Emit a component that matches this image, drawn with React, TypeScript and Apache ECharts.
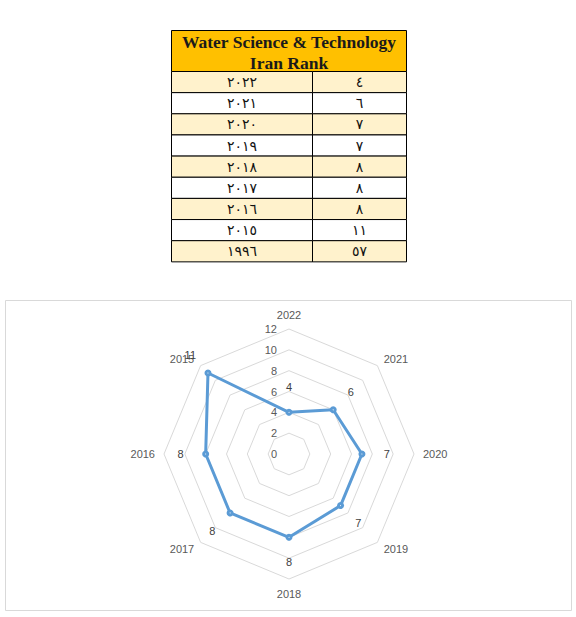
import React, { useEffect, useRef } from "react";
import * as echarts from "echarts";

// ---- data ----
const years = ["2022", "2021", "2020", "2019", "2018", "2017", "2016", "2015"];
const ranks = [4, 6, 7, 7, 8, 8, 8, 11];
const radarMin = 0;
const radarMax = 12;
const radarInterval = 2;

const tableTitle = ["Water Science & Technology", "Iran Rank"];
const tableYears = [2022, 2021, 2020, 2019, 2018, 2017, 2016, 2015, 1996];
const tableRanks = [4, 6, 7, 7, 8, 8, 8, 11, 57];

const toArabicDigits = (n: number) =>
  String(n).replace(/\d/g, (d) => String.fromCharCode(0x0660 + Number(d)));

// ---- layout / style ----
const CX = 289;
const CY = 454;
const R = 125;
const BLUE = "#5B9BD5";
const GRID = "#D9D9D9";
const TXT = "#595959";
const LBL = "#404040";
const FONT = "'Liberation Sans', Arial, sans-serif";

const TX = 171.5;
const TW = 235;
const TCOL = 312.5;
const TY = 30.5;
const TH_HEAD = 41;
const TROW = 21.15;

function buildTable() {
  const els: any[] = [];
  els.push({
    type: "rect",
    shape: { x: TX, y: TY, width: TW, height: TH_HEAD },
    style: { fill: "#FFC000", stroke: "#000", lineWidth: 1 },
  });
  tableTitle.forEach((t, i) => {
    els.push({
      type: "text",
      x: TX + TW / 2,
      y: TY + 11 + i * 21,
      style: {
        text: t,
        fontFamily: "'Liberation Serif', 'Times New Roman', serif",
        fontWeight: "bold",
        fontSize: 17.5,
        fill: "#1a1a1a",
        align: "center",
        verticalAlign: "middle",
      },
    });
  });
  tableYears.forEach((y, i) => {
    const top = TY + TH_HEAD + i * TROW;
    const fill = i % 2 === 0 ? "#FFF2CC" : "#FFFFFF";
    els.push({
      type: "rect",
      shape: { x: TX, y: top, width: TCOL - TX, height: TROW },
      style: { fill, stroke: "#000", lineWidth: 1 },
    });
    els.push({
      type: "rect",
      shape: { x: TCOL, y: top, width: TX + TW - TCOL, height: TROW },
      style: { fill, stroke: "#000", lineWidth: 1 },
    });
    els.push({
      type: "text",
      x: (TX + TCOL) / 2,
      y: top + TROW / 2,
      style: {
        text: toArabicDigits(y),
        fontFamily: "'DejaVu Sans', sans-serif",
        fontSize: 14,
        fill: "#111",
        align: "center",
        verticalAlign: "middle",
      },
    });
    els.push({
      type: "text",
      x: (TCOL + TX + TW) / 2,
      y: top + TROW / 2,
      style: {
        text: toArabicDigits(tableRanks[i]),
        fontFamily: "'DejaVu Sans', sans-serif",
        fontSize: 14,
        fill: "#111",
        align: "center",
        verticalAlign: "middle",
      },
    });
  });
  return els;
}

export default function App() {
  const ref = useRef<HTMLDivElement>(null);

  useEffect(() => {
    if (!ref.current) return;
    const chart = echarts.init(ref.current, null, { renderer: "svg" });

    // ECharts radar runs counter-clockwise; the reference runs clockwise.
    const order = [0, ...years.map((_, i) => i).slice(1).reverse()];
    const n = years.length;

    const indicator = order.map((k, j) => {
      const ind: any = { name: years[k], min: radarMin, max: radarMax };
      if (j === 0) {
        ind.axisLabel = {
          show: true,
          color: TXT,
          fontSize: 11,
          fontFamily: FONT,
          margin: 12,
          showMinLabel: true,
          showMaxLabel: true,
        };
      }
      return ind;
    });

    chart.setOption({
      animation: false,
      textStyle: { fontFamily: FONT },
      graphic: [
        {
          type: "rect",
          shape: { x: 5.5, y: 300.5, width: 566, height: 310 },
          style: { fill: "none", stroke: GRID, lineWidth: 1 },
          z: 0,
        },
        ...buildTable(),
      ],
      radar: {
        center: [CX, CY],
        radius: R,
        startAngle: 90,
        shape: "polygon",
        splitNumber: (radarMax - radarMin) / radarInterval,
        indicator,
        axisName: { color: TXT, fontSize: 11, fontFamily: FONT },
        nameGap: 9,
        axisLine: { show: false },
        axisTick: { show: false },
        axisLabel: { show: false },
        splitLine: { lineStyle: { color: GRID, width: 1 } },
        splitArea: { show: false },
      },
      polar: { center: [CX, CY], radius: R },
      angleAxis: {
        type: "value",
        min: 0,
        max: 360,
        startAngle: 90,
        clockwise: true,
        show: false,
      },
      radiusAxis: { type: "value", min: radarMin, max: radarMax, show: false },
      series: [
        {
          type: "radar",
          symbol: "circle",
          symbolSize: 7,
          lineStyle: { color: BLUE, width: 3 },
          itemStyle: { color: BLUE },
          data: [{ value: order.map((k) => ranks[k]) }],
          z: 3,
        },
        {
          type: "scatter",
          coordinateSystem: "polar",
          symbolSize: 1,
          itemStyle: { color: "#fff", opacity: 1 },
          silent: true,
          data: ranks.map((v, i) => {
            const a = (i * 2 * Math.PI) / n;
            const d = 25;
            return {
              value: [v, (i * 360) / n],
              label: { offset: [d * Math.sin(a), -d * Math.cos(a)] },
            };
          }),
          label: {
            show: true,
            position: "inside",
            color: LBL,
            textBorderWidth: 0,
            fontSize: 11,
            fontFamily: FONT,
            formatter: (p: any) => String(p.value[0]),
          },
          z: 4,
        },
      ],
    });

    return () => chart.dispose();
  }, []);

  return (
    <div
      ref={ref}
      style={{ position: "absolute", left: 0, top: 0, width: 576, height: 617, background: "#fff" }}
    />
  );
}
